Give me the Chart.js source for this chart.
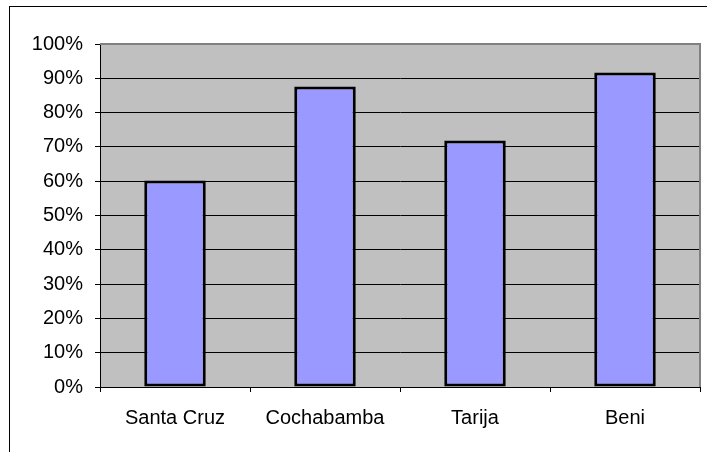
<!DOCTYPE html>
<html>
<head>
<meta charset="utf-8">
<script src="https://cdn.jsdelivr.net/npm/chart.js@4"></script>
<style>
	body { margin: 0; background: #fff; }
	#wrap { position: relative; width: 707px; height: 452px; overflow: hidden; }
	#frame { position: absolute; left: 9px; top: 6px; width: 710px; height: 460px; border: 1px solid #000; box-sizing: border-box; }
	canvas { position: absolute; left: 0; top: 0; }
</style>
</head>
<body>
<div id="wrap">
	<div id="frame"></div>
	<canvas id="chart" width="707" height="452"></canvas>
</div>
<script>
// Regions and their share
const regions = ["Santa Cruz", "Cochabamba", "Tarija", "Beni"];
const shares = [0.602, 0.876, 0.719, 0.917];

// Grey plot area with a darker edge on top and right
const plotBackground = {
	id: "plotBackground",
	beforeDraw(chart) {
		const { ctx, chartArea: a } = chart;
		ctx.save();
		ctx.fillStyle = "#c0c0c0";
		ctx.fillRect(a.left, a.top, a.right - a.left, a.bottom - a.top);
		ctx.restore();
	},
	afterDraw(chart) {
		const { ctx, chartArea: a } = chart;
		ctx.save();
		ctx.strokeStyle = "#808080";
		ctx.lineWidth = 2;
		ctx.beginPath();
		ctx.moveTo(a.left, a.top);
		ctx.lineTo(a.right, a.top);
		ctx.lineTo(a.right, a.bottom);
		ctx.stroke();
		ctx.restore();
	}
};

const font = { family: "'Liberation Sans', Arial, sans-serif", size: 20 };

const ctx = document.getElementById("chart").getContext("2d");
new Chart(ctx, {
	type: "bar",
	data: {
		labels: regions,
		datasets: [
			{
				data: shares,
				backgroundColor: "#9999ff",
				borderColor: "#000000",
				borderWidth: 3,
				borderSkipped: false,
				categoryPercentage: 1,
				barPercentage: 0.41,
			},
		],
	},
	options: {
		responsive: false,
		animation: false,
		layout: { padding: { top: 44, right: 7, left: 0, bottom: 0 } },
		plugins: { legend: { display: false }, tooltip: { enabled: false } },
		scales: {
			x: {
				afterFit: scale => { scale.height = 65; },
				grid: { drawOnChartArea: false, tickLength: 5, tickColor: "#000", lineWidth: 1 },
				border: { color: "#000", width: 1 },
				ticks: { color: "#000", font: font, padding: 14, maxRotation: 0 },
			},
			y: {
				min: 0,
				max: 1,
				afterFit: scale => { scale.width = 100; },
				grid: {
					color: c => (c.tick && c.tick.value >= 1 ? "#808080" : "#000"),
					tickColor: "#000",
					tickLength: 5,
					lineWidth: 1,
				},
				border: { color: "#000", width: 1 },
				ticks: {
					stepSize: 0.1,
					color: "#000",
					font: font,
					padding: 12,
					callback: v => Math.round(v * 100) + "%",
				},
			},
		},
	},
	plugins: [plotBackground],
});
</script>
</body>
</html>
